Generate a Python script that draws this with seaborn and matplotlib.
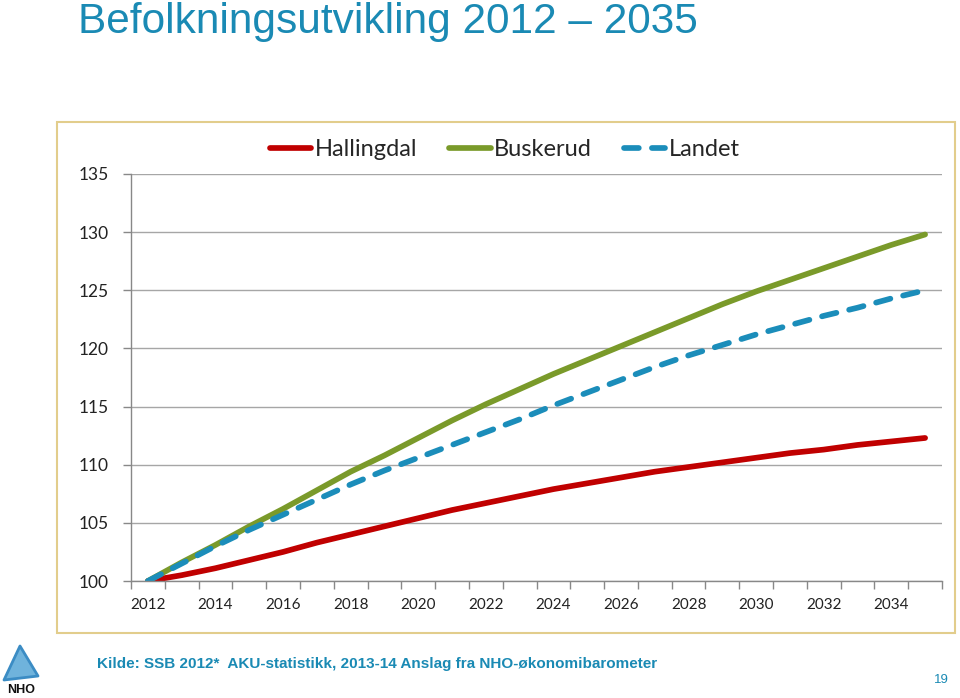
import matplotlib
matplotlib.use("Agg")
import matplotlib.pyplot as plt
import matplotlib.patches as mpatches
import seaborn as sns
import pandas as pd

years = list(range(2012, 2036))
hallingdal = [100.0, 100.5, 101.1, 101.8, 102.5, 103.3, 104.0, 104.7, 105.4, 106.1, 106.7, 107.3,
              107.9, 108.4, 108.9, 109.4, 109.8, 110.2, 110.6, 111.0, 111.3, 111.7, 112.0, 112.3]
buskerud = [100.0, 101.6, 103.1, 104.7, 106.2, 107.8, 109.4, 110.8, 112.3, 113.8, 115.2, 116.5,
            117.8, 119.0, 120.2, 121.4, 122.6, 123.8, 124.9, 125.9, 126.9, 127.9, 128.9, 129.8]
landet = [100.0, 101.5, 103.0, 104.4, 105.7, 107.0, 108.3, 109.5, 110.6, 111.7, 112.8, 113.9,
          115.1, 116.2, 117.3, 118.4, 119.4, 120.3, 121.2, 122.0, 122.8, 123.5, 124.3, 125.0]
series = ["Hallingdal", "Buskerud", "Landet"]
colors = {"Hallingdal": "#C00000", "Buskerud": "#7A9A2A", "Landet": "#1B8DBA"}
y_ticks = [100, 105, 110, 115, 120, 125, 130, 135]
x_labels = list(range(2012, 2035, 2))

df = pd.DataFrame({"year": years * 3,
                   "value": hallingdal + buskerud + landet,
                   "serie": sum([[s] * len(years) for s in series], [])})

sns.set_style("white")
plt.rcParams["font.family"] = ["Lato", "DejaVu Sans"]

fig = plt.figure(figsize=(9.6, 6.98), dpi=100)
ax = fig.add_axes([131 / 960, 1 - 581 / 698, (942 - 131) / 960, (581 - 174) / 698])

for s in series:
    sub = df[df["serie"] == s]
    kw = dict(solid_capstyle="round", dash_capstyle="round")
    if s == "Landet":
        kw["dashes"] = (2.6, 2.3)
    sns.lineplot(data=sub, x="year", y="value", color=colors[s], linewidth=4.1,
                 label=s, ax=ax, **kw)

ax.set_xlim(2011.5, 2035.5)
ax.set_ylim(100, 135)
ax.set_yticks(y_ticks)
ax.set_yticklabels([str(v) for v in y_ticks], fontsize=12.5, color="#222222")
ax.set_xticks(x_labels)
ax.set_xticklabels([str(v) for v in x_labels], fontsize=11, color="#222222")
ax.set_xticks([y - 0.5 for y in range(2012, 2037)], minor=True)
ax.tick_params(axis="x", which="major", length=0, pad=12)
ax.tick_params(axis="x", which="minor", length=6, color="#888888", width=1, direction="out", bottom=True)
ax.tick_params(axis="y", length=6, color="#888888", width=1, direction="out", left=True, pad=10)
ax.yaxis.grid(True, color="#A6A6A6", linewidth=1)
ax.set_axisbelow(True)
ax.set_xlabel("")
ax.set_ylabel("")
for side in ["top", "right"]:
    ax.spines[side].set_visible(False)
for side in ["left", "bottom"]:
    ax.spines[side].set_color("#888888")
    ax.spines[side].set_linewidth(1)

handles, labels = ax.get_legend_handles_labels()
ax.legend(handles, labels, loc="center", bbox_to_anchor=(505 / 960, 1 - 150 / 698),
          bbox_transform=fig.transFigure, ncol=3, frameon=False, fontsize=17,
          handlelength=1.75, handletextpad=0.15, columnspacing=1.35)

# chart frame
fig.patches.append(mpatches.Rectangle((57 / 960, 1 - 633 / 698), (955 - 57) / 960, (633 - 122) / 698,
                                      transform=fig.transFigure, fill=False,
                                      edgecolor="#E2CD8C", linewidth=1.5))

teal = "#1A8AB4"
fig.text(78 / 960, 1 - 33 / 698, "Befolkningsutvikling 2012 \u2013 2035", color=teal, fontsize=30.5,
         family=["Liberation Sans Narrow", "Liberation Sans", "DejaVu Sans"], va="baseline")
fig.text(97 / 960, 1 - 664 / 698,
         "Kilde: SSB 2012*  AKU-statistikk, 2013-14 Anslag fra NHO-\u00f8konomibarometer",
         color=teal, fontsize=11, fontweight="bold",
         family=["Liberation Sans", "DejaVu Sans"], va="center")
fig.text(941 / 960, 1 - 680 / 698, "19", color=teal, fontsize=9.5, ha="center", va="center",
         family=["Liberation Sans", "DejaVu Sans"])

# NHO logo
logo = mpatches.Polygon([(20 / 960, 1 - 646 / 698), (38 / 960, 1 - 676 / 698), (4 / 960, 1 - 680 / 698)],
                        closed=True, transform=fig.transFigure, facecolor="#6FB3DC",
                        edgecolor="#3B8CC4", linewidth=2, joinstyle="round")
fig.patches.append(logo)
fig.text(21 / 960, 1 - 690 / 698, "NHO", fontsize=9, fontweight="bold", ha="center", va="center",
         family=["Liberation Sans", "DejaVu Sans"], color="#111111")

fig.savefig("out.png", dpi=100, facecolor="white")
